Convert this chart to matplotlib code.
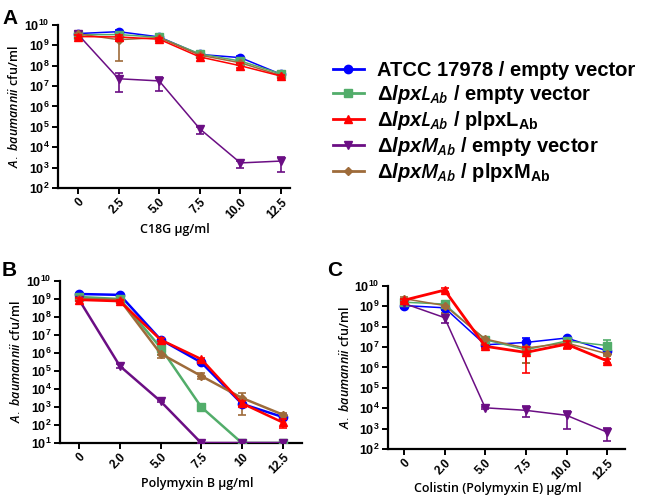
import numpy as np
import matplotlib
matplotlib.use('Agg')
import matplotlib.pyplot as plt
from matplotlib.lines import Line2D

plt.rcParams['font.family'] = ['Liberation Sans', 'DejaVu Sans']
plt.rcParams['mathtext.fontset'] = 'custom'
plt.rcParams['mathtext.rm'] = 'Liberation Sans'
plt.rcParams['mathtext.bf'] = 'Liberation Sans:bold'
plt.rcParams['mathtext.it'] = 'Open Sans:italic:semibold'
plt.rcParams['mathtext.bfit'] = 'Liberation Sans:italic:bold'

# ---- data (cfu/ml), mean with lower/upper error bar ends ----
labels = ['ATCC 17978 / empty vector',
          r'$\mathbf{\Delta}\boldsymbol{lpxL_{Ab}}$ / empty vector',
          r'$\mathbf{\Delta}\boldsymbol{lpxL_{Ab}}$ / $\mathbf{plpxL_{Ab}}$',
          r'$\mathbf{\Delta}\boldsymbol{lpxM_{Ab}}$ / empty vector',
          r'$\mathbf{\Delta}\boldsymbol{lpxM_{Ab}}$ / $\mathbf{plpxM_{Ab}}$']
colors = ['#0000FF', '#52AD6A', '#FF0000', '#6B0E84', '#9E6B3A']
markers = ['o', 's', '^', 'v', 'D']

# Panel A: C18G
a_ticks = ['0', '2.5', '5.0', '7.5', '10.0', '12.5']
a_wt = [3.8e9, 4.7e9, 2.6e9, 3.6e8, 2.5e8, 3.8e7]
a_wt_lo = [3.0e9, 4.0e9, 2.2e9, 3.1e8, 2.1e8, 3.2e7]
a_wt_hi = [4.6e9, 5.5e9, 3.0e9, 4.2e8, 2.9e8, 4.5e7]
a_l = [3.3e9, 3.4e9, 2.5e9, 3.8e8, 1.7e8, 4.0e7]
a_l_lo = [2.2e9, 2.8e9, 2.1e9, 3.3e8, 1.4e8, 3.0e7]
a_l_hi = [4.2e9, 4.0e9, 2.9e9, 4.4e8, 2.0e8, 5.0e7]
a_lc = [2.7e9, 2.6e9, 2.0e9, 2.7e8, 1.0e8, 3.1e7]
a_lc_lo = [2.2e9, 2.1e9, 1.7e9, 2.3e8, 8.0e7, 2.6e7]
a_lc_hi = [3.3e9, 3.1e9, 2.4e9, 3.2e8, 1.3e8, 3.7e7]
a_m = [3.5e9, 2.3e7, 1.8e7, 8.0e4, 1.7e3, 2.1e3]
a_m_lo = [3.0e9, 5.0e6, 6.0e6, 4.5e4, 1.0e3, 6.0e2]
a_m_hi = [4.0e9, 4.5e7, 2.8e7, 1.0e5, 2.0e3, 3.5e3]
a_mc = [3.7e9, 1.9e9, 2.4e9, 3.3e8, 1.4e8, 3.3e7]
a_mc_lo = [2.0e9, 1.8e8, 2.0e9, 2.8e8, 1.2e8, 2.8e7]
a_mc_hi = [5.0e9, 3.2e9, 2.8e9, 3.8e8, 1.7e8, 3.9e7]

# Panel B: Polymyxin B
b_ticks = ['0', '2.0', '5.0', '7.5', '10', '12.5']
b_wt = [1.9e9, 1.7e9, 5.6e6, 3.0e5, 1.5e3, 2.8e2]
b_wt_lo = [1.6e9, 1.4e9, 4.5e6, 2.5e5, 1.2e3, 2.3e2]
b_wt_hi = [2.2e9, 2.0e9, 6.7e6, 3.6e5, 1.8e3, 3.3e2]
b_l = [1.3e9, 1.0e9, 2.0e6, 1.0e3, 10, 10]
b_l_lo = [1.1e9, 8.5e8, 8.0e5, 8.0e2, 10, 10]
b_l_hi = [1.5e9, 1.2e9, 3.7e6, 1.2e3, 10, 10]
b_lc = [9.0e8, 7.6e8, 5.5e6, 4.6e5, 1.6e3, 1.4e2]
b_lc_lo = [7.5e8, 6.3e8, 4.5e6, 3.8e5, 1.1e3, 6.5e1]
b_lc_hi = [1.1e9, 9.0e8, 6.5e6, 5.5e5, 2.1e3, 2.3e2]
b_m = [9.0e8, 1.9e5, 2.1e3, 10, 10, 10]
b_m_lo = [8.0e8, 1.4e5, 1.8e3, 10, 10, 10]
b_m_hi = [1.0e9, 2.6e5, 2.4e3, 10, 10, 10]
b_mc = [1.0e9, 9.0e8, 9.3e5, 5.3e4, 3.2e3, 3.8e2]
b_mc_lo = [8.5e8, 7.5e8, 5.5e5, 3.4e4, 3.8e2, 3.2e2]
b_mc_hi = [1.2e9, 1.1e9, 1.7e6, 8.0e4, 6.2e3, 4.5e2]

# Panel C: Colistin
c_ticks = ['0', '2.0', '5.0', '7.5', '10.0', '12.5']
c_wt = [1.1e9, 8.5e8, 1.3e7, 1.7e7, 2.8e7, 6.6e6]
c_wt_lo = [8.5e8, 6.5e8, 1.1e7, 9.0e6, 2.3e7, 5.0e6]
c_wt_hi = [1.4e9, 1.1e9, 1.5e7, 2.9e7, 3.3e7, 8.5e6]
c_l = [1.6e9, 1.3e9, 2.3e7, 7.4e6, 2.0e7, 1.2e7]
c_l_lo = [1.3e9, 1.1e9, 1.9e7, 1.7e6, 1.7e7, 6.0e6]
c_l_hi = [1.9e9, 1.5e9, 2.7e7, 1.0e7, 2.4e7, 2.3e7]
c_lc = [2.0e9, 6.3e9, 1.1e7, 5.5e6, 1.4e7, 2.1e6]
c_lc_lo = [1.7e9, 4.8e9, 9.0e6, 5.6e5, 8.5e6, 1.6e6]
c_lc_hi = [2.4e9, 8.0e9, 1.3e7, 1.0e7, 1.9e7, 2.6e6]
c_m = [1.4e9, 2.8e8, 1.05e4, 7.9e3, 4.5e3, 6.7e2]
c_m_lo = [1.2e9, 1.6e8, 9.0e3, 3.7e3, 1.0e3, 2.4e2]
c_m_hi = [1.6e9, 4.7e8, 1.2e4, 1.25e4, 7.3e3, 1.1e3]
c_mc = [2.4e9, 1.1e9, 2.5e7, 9.0e6, 1.6e7, 4.7e6]
c_mc_lo = [1.9e9, 5.0e8, 2.1e7, 1.6e6, 1.3e7, 3.8e6]
c_mc_hi = [3.0e9, 1.4e9, 3.0e7, 1.3e7, 1.9e7, 5.6e6]


def draw_panel(ax, ticks, series, ymin, xlabel, xlim, widths, label_xy):
    x = np.arange(len(ticks))
    for i, (mean, lo, hi) in enumerate(series):
        mean = np.array(mean)
        yerr = [mean - np.array(lo), np.array(hi) - mean]
        ms = 4 if markers[i] == 'D' else 6
        ax.errorbar(x, mean, yerr=yerr, color=colors[i], marker=markers[i],
                    markersize=ms, lw=widths[i], elinewidth=1.2, capsize=3,
                    capthick=1.2, zorder=3 + (i == 2))
    ax.set_yscale('log')
    ax.set_ylim(ymin, 1e10)
    exps = range(int(round(np.log10(ymin))), 11)
    ax.set_yticks([10.0 ** e for e in exps])
    ax.set_yticklabels([r'$\mathbf{10^{%d}}$' % e for e in exps], fontsize=9)
    ax.yaxis.set_minor_locator(plt.NullLocator())
    ax.set_xticks(x)
    ax.set_xticklabels(ticks, rotation=45, ha='right', rotation_mode='anchor',
                       fontsize=8.5, fontweight='bold')
    ax.set_xlim(*xlim)
    ax.set_xlabel(xlabel, family='Open Sans', fontweight='semibold', fontsize=9,
                  va='center')
    ax.xaxis.set_label_coords(*label_xy)
    ax.set_ylabel(r'$\mathit{A.\ baumannii}$ cfu/ml', family='Open Sans',
                  fontweight='semibold', fontsize=9, labelpad=2)
    for side in ['top', 'right']:
        ax.spines[side].set_visible(False)
    for side in ['left', 'bottom']:
        ax.spines[side].set_linewidth(1.6)
    ax.tick_params(width=1.4, length=4, pad=2)


fig = plt.figure(figsize=(6.5, 4.98), dpi=100)

ax_a = fig.add_axes([0.0892, 0.6225, 0.357, 0.3273])
draw_panel(ax_a, a_ticks,
           [(a_wt, a_wt_lo, a_wt_hi), (a_l, a_l_lo, a_l_hi), (a_lc, a_lc_lo, a_lc_hi),
            (a_m, a_m_lo, a_m_hi), (a_mc, a_mc_lo, a_mc_hi)],
           1e2, 'C18G µg/ml', (-0.49, 5.22), [1.1] * 5, (0.504, -0.255))

ax_b = fig.add_axes([0.0923, 0.1104, 0.372, 0.3253])
draw_panel(ax_b, b_ticks,
           [(b_wt, b_wt_lo, b_wt_hi), (b_l, b_l_lo, b_l_hi), (b_lc, b_lc_lo, b_lc_hi),
            (b_m, b_m_lo, b_m_hi), (b_mc, b_mc_lo, b_mc_hi)],
           1e1, 'Polymyxin B µg/ml', (-0.47, 5.47), [1.8] * 5, (0.566, -0.247))

ax_c = fig.add_axes([0.597, 0.0984, 0.3646, 0.3273])
draw_panel(ax_c, c_ticks,
           [(c_wt, c_wt_lo, c_wt_hi), (c_l, c_l_lo, c_l_hi), (c_lc, c_lc_lo, c_lc_hi),
            (c_m, c_m_lo, c_m_hi), (c_mc, c_mc_lo, c_mc_hi)],
           1e2, 'Colistin (Polymyxin E) µg/ml', (-0.39, 5.44),
           [1.1, 1.1, 2.0, 1.1, 1.1], (0.464, -0.245))

# panel letters
fig.text(0.004, 0.962, 'A', fontsize=15, fontweight='bold', va='center')
fig.text(0.002, 0.456, 'B', fontsize=15, fontweight='bold', va='center')
fig.text(0.503, 0.456, 'C', fontsize=15, fontweight='bold', va='center')

# legend
handles = [Line2D([], [], color=colors[i], marker=markers[i], lw=2,
                  markersize=4 if markers[i] == 'D' else 6) for i in range(5)]
fig.legend(handles, labels, loc='upper left', bbox_to_anchor=(0.512, 0.878),
           frameon=False, prop={'weight': 'bold', 'size': 14.5},
           handlelength=1.55, handletextpad=0.65, labelspacing=0.15,
           borderpad=0, borderaxespad=0)

fig.savefig('out.png', dpi=100)
